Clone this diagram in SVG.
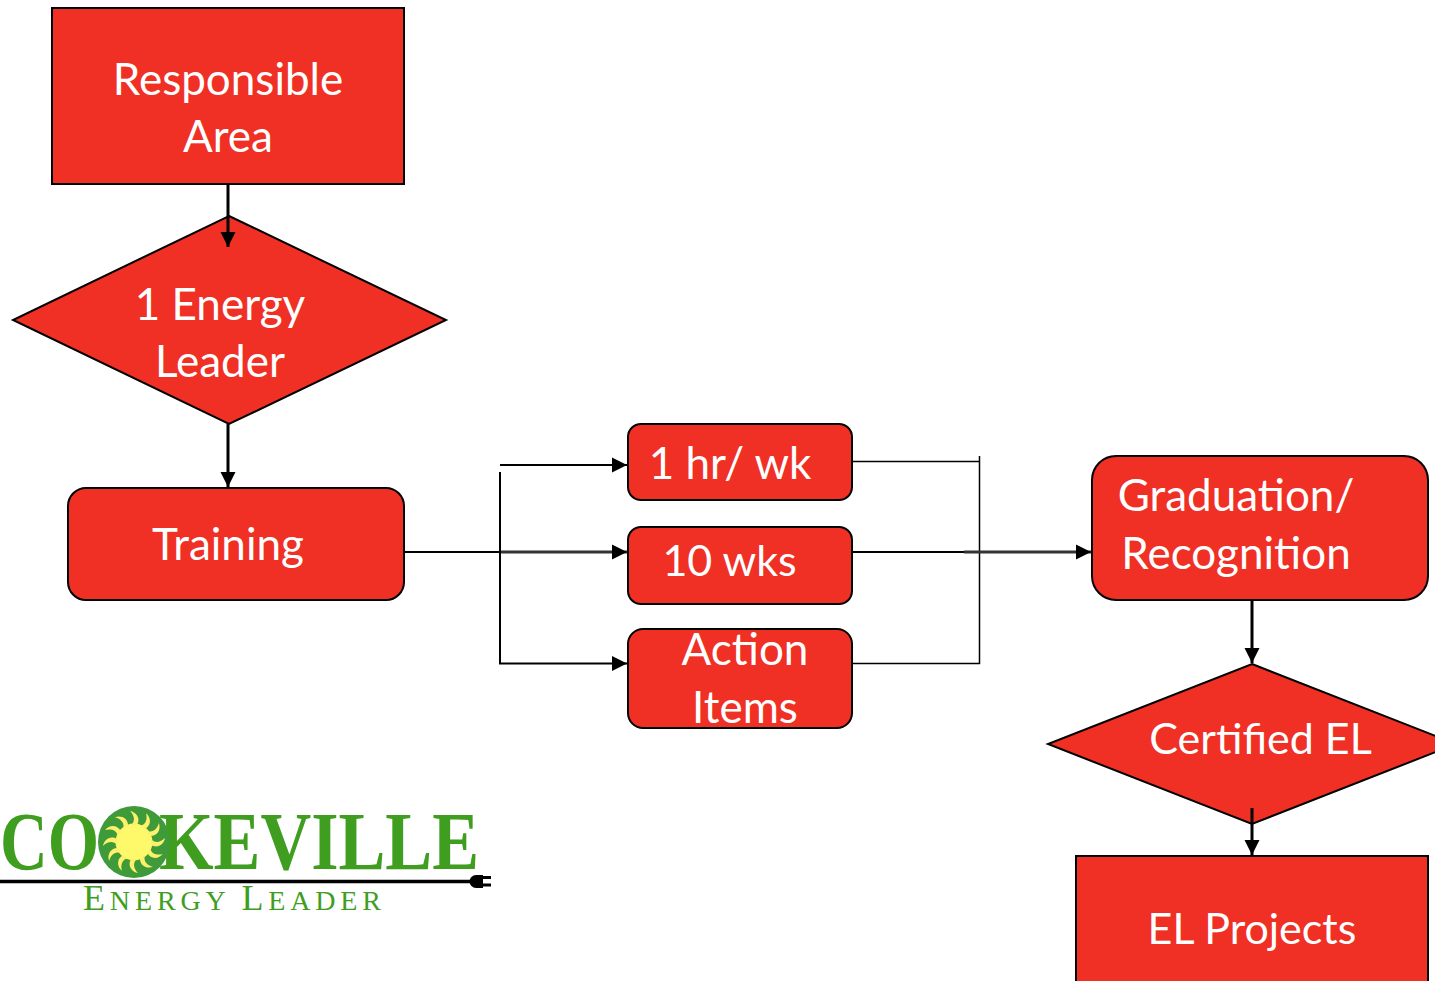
<svg xmlns="http://www.w3.org/2000/svg" xmlns:xlink="http://www.w3.org/1999/xlink" width="1435" height="981" viewBox="0 0 1435 981">
<style>
.n{fill:#f02f25;stroke:#000;stroke-width:2}
.t{font-family:Lato,"Open Sans",sans-serif;font-size:44px;fill:#fff;text-anchor:middle}
.c{fill:none;stroke:#000}
.c1{stroke-width:1.5}
.c2{stroke-width:2}
.c3{stroke-width:3}
.g{stroke:#333;stroke-width:2.800}
.logo{font-family:"Liberation Serif",serif;fill:#3f9e1f}
.big{font-size:82px;font-weight:bold}
.sm{font-size:36px}
.sc{font-size:28px}
</style>
<defs>
<marker id="a" markerUnits="userSpaceOnUse" markerWidth="15" markerHeight="16" refX="14" refY="7" orient="auto" viewBox="0 0 14 14"><path d="M0 0L14 7L0 14z" fill="#000"/></marker>
<path id="ray" d="M-3 -17C2 -21 0 -27 -4 -31C2 -30 7 -24 3 -17z" fill="#fdf06a"/>
</defs>
<g id="responsible-area"><rect class="n" x="52" y="8" width="352" height="176"/><text class="t"><tspan x="228" y="95">Responsible</tspan><tspan x="228" y="152">Area</tspan></text></g>
<g id="energy-leader"><path class="n" d="M229 216L446 320L229 424L13 320z"/><text class="t"><tspan x="220" y="320">1 Energy</tspan><tspan x="220" y="377">Leader</tspan></text></g>
<g id="training"><rect class="n" x="68" y="488" width="336" height="112" rx="18"/><text class="t" x="228" y="560">Training</text></g>
<g id="hours"><rect class="n" x="628" y="424" width="224" height="76" rx="13"/><text class="t" x="730" y="479" font-size="43">1 hr/ wk</text></g>
<g id="weeks"><rect class="n" x="628" y="527" width="224" height="77" rx="13"/><text class="t" x="729.500" y="576" style="font-size:43px">10 wks</text></g>
<g id="action-items"><rect class="n" x="628" y="629" width="224" height="99" rx="15"/><text class="t"><tspan x="745" y="665">Action</tspan><tspan x="745" y="723">Items</tspan></text></g>
<g id="graduation"><rect class="n" x="1092" y="456" width="336" height="144" rx="24"/><text class="t"><tspan x="1236" y="511">Graduation/</tspan><tspan x="1236" y="569">Recognition</tspan></text></g>
<g id="certified"><path class="n" d="M1252 664L1456 744L1252 824L1048 744z"/><text class="t" x="1260.500" y="754" style="font-size:43px">Certified EL</text></g>
<g id="el-projects"><rect class="n" x="1076" y="856" width="352" height="140"/><text class="t" x="1252" y="944" style="font-size:43px">EL Projects</text></g>
<g id="connectors">
<path class="c c3" d="M228 184V247" marker-end="url(#a)"/>
<path class="c c3" d="M228 424V487" marker-end="url(#a)"/>
<path class="c c2" d="M404 552H500"/>
<path class="c g" d="M500 552H627" marker-end="url(#a)"/>
<path class="c c2" d="M500 465H627" marker-end="url(#a)"/>
<path class="c c2" d="M500 472V663.500H627" marker-end="url(#a)"/>
<path class="c c1" d="M852 461.500H979M979.500 456V664M852 663.500H980"/>
<path class="c c2" d="M852 552H964"/>
<path class="c g" d="M964 552H1091" marker-end="url(#a)"/>
<path class="c c3" d="M1252 600V663" marker-end="url(#a)"/>
<path class="c c3" d="M1252 808V855" marker-end="url(#a)"/>
</g>
<g id="logo">
<text class="logo big" x="0" y="869" textLength="99" lengthAdjust="spacingAndGlyphs">CO</text>
<text class="logo big" x="159" y="869" textLength="320" lengthAdjust="spacingAndGlyphs">KEVILLE</text>
<circle cx="134" cy="842" r="36" fill="#3f9a3a"/>
<circle cx="134" cy="842" r="18.500" fill="#fdf96a"/>
<g transform="translate(134 842)">
<use xlink:href="#ray"/><use xlink:href="#ray" transform="rotate(30)"/><use xlink:href="#ray" transform="rotate(60)"/><use xlink:href="#ray" transform="rotate(90)"/><use xlink:href="#ray" transform="rotate(120)"/><use xlink:href="#ray" transform="rotate(150)"/><use xlink:href="#ray" transform="rotate(180)"/><use xlink:href="#ray" transform="rotate(210)"/><use xlink:href="#ray" transform="rotate(240)"/><use xlink:href="#ray" transform="rotate(270)"/><use xlink:href="#ray" transform="rotate(300)"/><use xlink:href="#ray" transform="rotate(330)"/>
</g>
<path d="M0 881.500H478" stroke="#000" stroke-width="3.500" fill="none"/>
<path d="M476 875H483V888H476a6.500 6.500 0 0 1 0 -13z" fill="#000"/>
<path d="M482 877.500H491M482 885H491" stroke="#000" stroke-width="3" fill="none"/>
<text class="logo" x="83" y="910" textLength="298" lengthAdjust="spacing"><tspan class="sm">E</tspan><tspan class="sc">NERGY </tspan><tspan class="sm">L</tspan><tspan class="sc">EADER</tspan></text>
</g>
</svg>
